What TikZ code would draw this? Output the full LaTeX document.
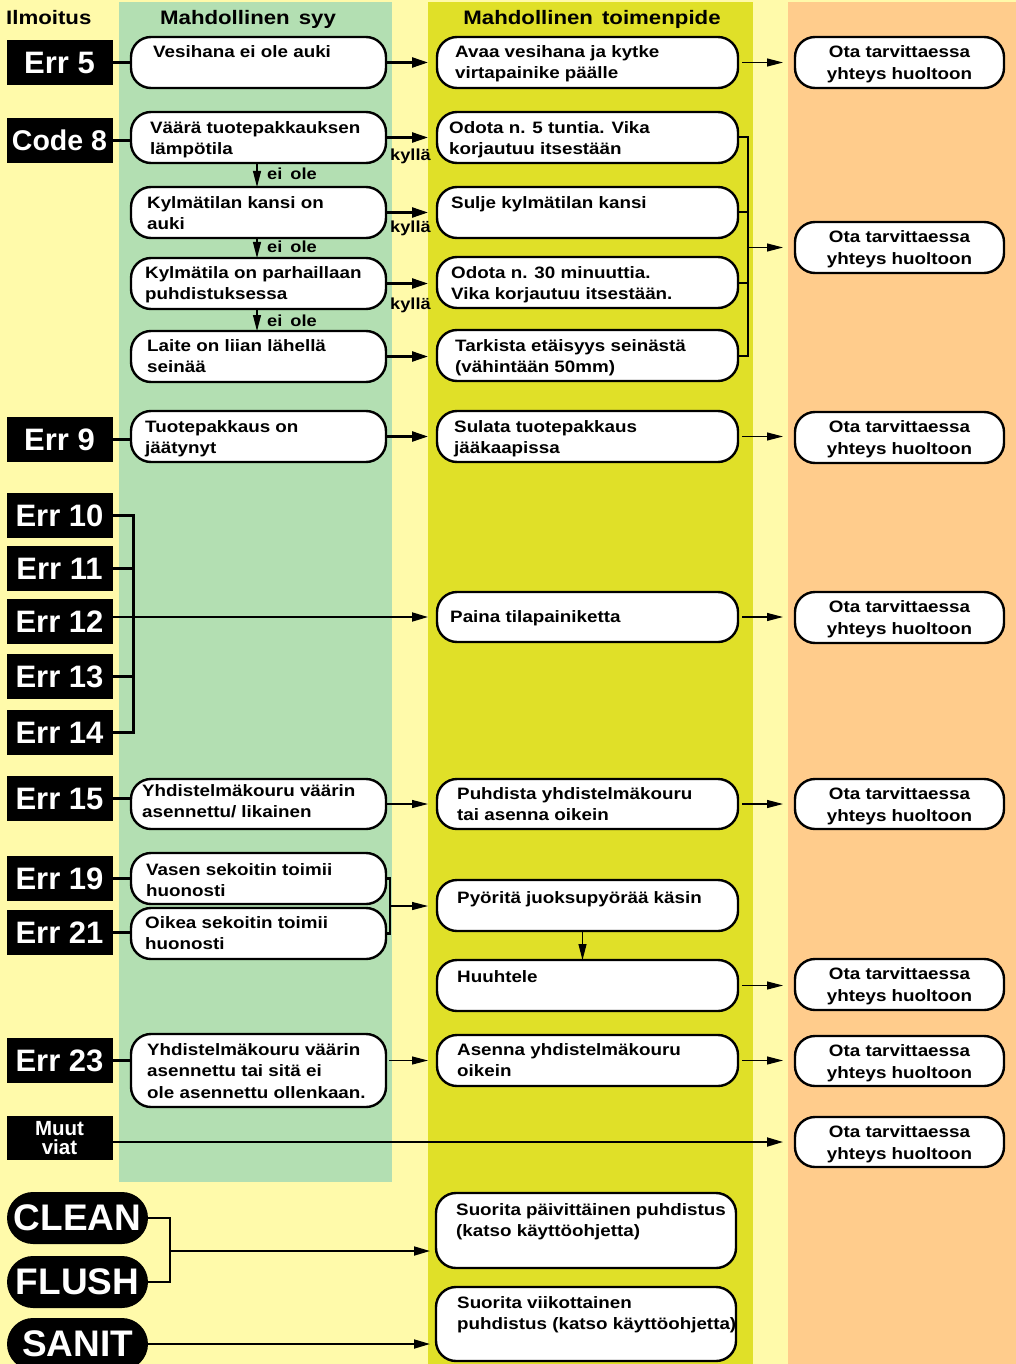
\documentclass[tikz,border=0pt]{standalone}
\usepackage{fontspec}
\setmainfont{Liberation Sans}
\newfontfamily\wide[FakeStretch=1.14]{Liberation Sans}
\usetikzlibrary{arrows.meta,calc}
\definecolor{bgy}{RGB}{255,250,170}
\definecolor{colg}{RGB}{179,223,178}
\definecolor{colyg}{RGB}{224,224,40}
\definecolor{colo}{RGB}{255,204,140}
\newcommand\svtxt{\rule{0pt}{16pt}Ota tarvittaessa\\yhteys huoltoon}
\begin{document}
\begin{tikzpicture}[x=1pt,y=-1pt,
  box/.style={draw, line width=2.4pt, fill=white, rounded corners=20pt, inner sep=0pt, outer sep=0pt},
  errbox/.style={fill=black, text=white, inner sep=0pt, outer sep=0pt, minimum width=106pt, minimum height=45pt, font=\bfseries\fontsize{31}{31}\selectfont},
  pill/.style={fill=black, text=white, rounded corners=26pt, minimum width=141pt, minimum height=52pt, inner sep=0pt, outer sep=0pt, font=\bfseries\fontsize{37}{37}\selectfont},
  txt/.style={anchor=north west, align=left, inner sep=0pt, font=\wide\bfseries\fontsize{16.5}{21.5}\selectfont},
  stxt/.style={align=center, font=\wide\bfseries\fontsize{16.5}{22}\selectfont},
  head/.style={anchor=base, inner sep=0pt, font=\wide\bfseries\fontsize{19.5}{20}\selectfont},
  lab/.style={anchor=base west, inner sep=0pt, font=\wide\bfseries\fontsize{16}{16}\selectfont},
  conn/.style={line width=2.2pt},
  thk/.style={line width=2.4pt, -{Triangle[length=16pt,width=10pt]}, shorten >=9pt},
  med/.style={line width=1.8pt, -{Triangle[length=16pt,width=9pt]}},
  thn/.style={line width=1.1pt, -{Triangle[length=16pt,width=8pt]}},
]
\clip (0,0) rectangle (1016,1364);
% backgrounds
\fill[bgy] (0,0) rectangle (1016,1364);
\fill[colg] (119,2) rectangle (392,1182);
\fill[colyg] (428,2) rectangle (753,1364);
\fill[colo] (788,2) rectangle (1016,1364);

% headers
\node[head, anchor=base west] (h1) at (6,25) {Ilmoitus};
\node[head] (h2) at (248,25) {Mahdollinen\hskip 9pt syy};
\node[head] (h3) at (592,25) {Mahdollinen\hskip 9pt toimenpide};

% error labels
\node[errbox] (e5) at (59.5,62.5) {Err 5};
\node[errbox, font=\bfseries\fontsize{28.5}{28.5}\selectfont] (code8) at (59.5,140.5) {Code 8};
\node[errbox] (e9) at (59.5,439.5) {Err 9};
\node[errbox] (e10) at (59.5,515.5) {Err 10};
\node[errbox] (e11) at (59.5,568.5) {Err 11};
\node[errbox] (e12) at (59.5,621.5) {Err 12};
\node[errbox] (e13) at (59.5,676.5) {Err 13};
\node[errbox] (e14) at (59.5,732.5) {Err 14};
\node[errbox] (e15) at (59.5,798.5) {Err 15};
\node[errbox] (e19) at (59.5,878.5) {Err 19};
\node[errbox] (e21) at (59.5,932.5) {Err 21};
\node[errbox] (e23) at (59.5,1060.5) {Err 23};
\node[errbox, minimum height=44pt, align=center, font=\bfseries\fontsize{20.5}{19}\selectfont] (muut) at (59.5,1138) {Muut\\viat};

% pills
\node[pill] (clean) at (77.5,1218) {CLEAN};
\node[pill] (flush) at (77.5,1282) {FLUSH};
\node[pill] (sanit) at (77.5,1344) {SANIT};

% cause boxes
\node[box, minimum width=255pt, minimum height=51pt] (c1) at (258.5,62.5) {};
\node[box, minimum width=255pt, minimum height=51pt] (c2) at (258.5,137.5) {};
\node[box, minimum width=255pt, minimum height=51pt] (c3) at (258.5,212.5) {};
\node[box, minimum width=255pt, minimum height=51pt] (c4) at (258.5,283.5) {};
\node[box, minimum width=255pt, minimum height=51pt] (c5) at (258.5,356.5) {};
\node[box, minimum width=255pt, minimum height=51pt] (c6) at (258.5,436.5) {};
\node[box, minimum width=255pt, minimum height=50pt] (c7) at (258.5,804) {};
\node[box, minimum width=255pt, minimum height=51pt] (c8) at (258.5,878.5) {};
\node[box, minimum width=255pt, minimum height=51pt] (c9) at (258.5,933.5) {};
\node[box, minimum width=255pt, minimum height=73pt] (c10) at (258.5,1070.5) {};

\node[txt] (tc1) at (153,42) {\strut Vesihana ei ole auki};
\node[txt] (tc2) at (150,118) {\strut Väärä tuotepakkauksen\\lämpötila};
\node[txt] (tc3) at (147,193) {\strut Kylmätilan kansi on\\auki};
\node[txt] (tc4) at (145,263) {\strut Kylmätila on parhaillaan\\puhdistuksessa};
\node[txt] (tc5) at (147,336) {\strut Laite on liian lähellä\\seinää};
\node[txt] (tc6) at (145,417) {\strut Tuotepakkaus on\\jäätynyt};
\node[txt] (tc7) at (142,781) {\strut Yhdistelmäkouru väärin\\asennettu/ likainen};
\node[txt] (tc8) at (146,860) {\strut Vasen sekoitin toimii\\huonosti};
\node[txt] (tc9) at (145,913) {\strut Oikea sekoitin toimii\\huonosti};
\node[txt] (tc10) at (147,1040) {\strut Yhdistelmäkouru väärin\\asennettu tai sitä ei\\ole asennettu ollenkaan.};

% action boxes
\node[box, minimum width=301pt, minimum height=51pt] (a1) at (587.5,62.5) {};
\node[box, minimum width=301pt, minimum height=51pt] (a2) at (587.5,137.5) {};
\node[box, minimum width=301pt, minimum height=51pt] (a3) at (587.5,212.5) {};
\node[box, minimum width=301pt, minimum height=51pt] (a4) at (587.5,282.5) {};
\node[box, minimum width=301pt, minimum height=51pt] (a5) at (587.5,355.5) {};
\node[box, minimum width=301pt, minimum height=51pt] (a6) at (587.5,436.5) {};
\node[box, minimum width=301pt, minimum height=50pt] (a7) at (587.5,617) {};
\node[box, minimum width=301pt, minimum height=50pt] (a8) at (587.5,804) {};
\node[box, minimum width=301pt, minimum height=51pt] (a9) at (587.5,905.5) {};
\node[box, minimum width=301pt, minimum height=51pt] (a10) at (587.5,985.5) {};
\node[box, minimum width=301pt, minimum height=51pt] (a11) at (587.5,1060.5) {};
\node[box, minimum width=300pt, minimum height=75pt] (a12) at (586,1230.5) {};
\node[box, minimum width=300pt, minimum height=74pt] (a13) at (586,1324) {};

\node[txt] (ta1) at (455,42) {\strut Avaa vesihana ja kytke\\virtapainike päälle};
\node[txt] (ta2) at (449,118) {\strut Odota n. 5 tuntia. Vika\\korjautuu itsestään};
\node[txt] (ta3) at (451,193) {\strut Sulje kylmätilan kansi};
\node[txt] (ta4) at (451,263) {\strut Odota n. 30 minuuttia.\\Vika korjautuu itsestään.};
\node[txt] (ta5) at (455,336) {\strut Tarkista etäisyys seinästä\\(vähintään 50mm)};
\node[txt] (ta6) at (454,417) {\strut Sulata tuotepakkaus\\jääkaapissa};
\node[txt] (ta7) at (450,607) {\strut Paina tilapainiketta};
\node[txt] (ta8) at (457,784) {\strut Puhdista yhdistelmäkouru\\tai asenna oikein};
\node[txt] (ta9) at (457,888) {\strut Pyöritä juoksupyörää käsin};
\node[txt] (ta10) at (457,967) {\strut Huuhtele};
\node[txt] (ta11) at (457,1040) {\strut Asenna yhdistelmäkouru\\oikein};
\node[txt] (ta12) at (456,1200) {\strut Suorita päivittäinen puhdistus\\(katso käyttöohjetta)};
\node[txt] (ta13) at (457,1293) {\strut Suorita viikottainen\\puhdistus (katso käyttöohjetta)};

% service boxes
\node[box, stxt, minimum width=209pt, minimum height=51pt] (s1) at (899.5,62.5) {\svtxt};
\node[box, stxt, minimum width=209pt, minimum height=51pt] (s2) at (899.5,247.5) {\svtxt};
\node[box, stxt, minimum width=209pt, minimum height=51pt] (s3) at (899.5,437.5) {\svtxt};
\node[box, stxt, minimum width=209pt, minimum height=51pt] (s4) at (899.5,617.5) {\svtxt};
\node[box, stxt, minimum width=209pt, minimum height=50pt] (s5) at (899.5,804) {\svtxt};
\node[box, stxt, minimum width=209pt, minimum height=51pt] (s6) at (899.5,984.5) {\svtxt};
\node[box, stxt, minimum width=209pt, minimum height=50pt] (s7) at (899.5,1061) {\svtxt};
\node[box, stxt, minimum width=209pt, minimum height=50pt] (s8) at (899.5,1142) {\svtxt};

% error -> cause lines
\draw[conn] (e5.east) -- (e5.east -| c1.west);
\draw[conn] (code8.east) -- (code8.east -| c2.west);
\draw[conn] (e9.east) -- (e9.east -| c6.west);
\draw[conn] (e15.east) -- (e15.east -| c7.west);
\draw[conn] (e19.east) -- (e19.east -| c8.west);
\draw[conn] (e21.east) -- (e21.east -| c9.west);
\draw[conn] (e23.east) -- (e23.east -| c10.west);

% cause -> action
\draw[thk] (c1.east) -- (a1.west);
\draw[thk] (c2.east) -- (a2.west);
\draw[thk] (c3.east) -- (a3.west);
\draw[thk] (c4.east) -- (c4.east -| a4.west);
\draw[thk] (c5.east) -- (c5.east -| a5.west);
\draw[thk] (c6.east) -- (a6.west);
\draw[thn, shorten >=9pt] (c7.east) -- (a8.west);
\draw[thn, shorten >=9pt, shorten <=3pt] (c10.east |- a11.west) -- (a11.west);

% yes/no labels
\node[lab] (k1) at (390,161) {kyllä};
\node[lab] (k2) at (390,233) {kyllä};
\node[lab] (k3) at (390,309) {kyllä};
\draw[thn] ($(c2.south)+(-1.5,0)$) -- ($(c3.north)+(-1.5,0)$);
\draw[thn] ($(c3.south)+(-1.5,0)$) -- ($(c4.north)+(-1.5,0)$);
\draw[thn] ($(c4.south)+(-1.5,0)$) -- ($(c5.north)+(-1.5,0)$);
\node[lab] (n1) at (267,180) {ei\hskip 8pt ole};
\node[lab] (n2) at (267,253) {ei\hskip 8pt ole};
\node[lab] (n3) at (267,326) {ei\hskip 8pt ole};

% action bracket
\draw[line width=2pt] (a2.east) -- ++(10,0) |- (a5.east);
\draw[line width=2pt] (a3.east) -- ++(10,0);
\draw[line width=2pt] (a4.east) -- ++(10,0);
\coordinate (ab) at (749,247.5);
\draw[thn, shorten >=12pt] (ab) -- (s2.west);

% action -> service
\draw[thn, shorten <=4pt, shorten >=12pt] (a1.east) -- (s1.west);
\draw[thn, shorten <=4pt, shorten >=12pt] (a6.east) -- (a6.east -| s3.west);
\draw[thn, shorten <=4pt, shorten >=12pt] (a7.east) -- (a7.east -| s4.west);
\draw[thn, shorten <=4pt, shorten >=12pt] (a8.east) -- (s5.west);
\draw[thn, shorten <=4pt, shorten >=12pt] (a10.east) -- (a10.east -| s6.west);
\draw[thn, shorten <=4pt, shorten >=12pt] (a11.east) -- (a11.east -| s7.west);

% Err 10-14 bracket
\draw[conn] (e10.east) -- ++(21,0) |- (e14.east);
\draw[conn] (e11.east) -- ++(21,0);
\draw[conn] (e13.east) -- ++(21,0);
\draw[med, shorten >=9pt] (e12.east |- a7.west) -- (a7.west);

% Err 19/21 bracket
\draw[conn] (c8.east) -- ++(4,0) |- (c9.east);
\coordinate (vb) at (390,906);
\draw[thn, shorten >=9pt] (vb) -- (vb -| a9.west);
\draw[thn] ($(a9.south)+(-5,0)$) -- ($(a10.north)+(-5,0)$);

% Muut viat
\draw[med, shorten >=12pt] (muut.east |- s8.west) -- (s8.west);

% CLEAN / FLUSH / SANIT
\draw[conn] (clean.east) -- ++(22,0) |- (flush.east);
\coordinate (cb) at (170,1251);
\draw[med, shorten >=6pt] (cb) -- (cb -| a12.west);
\draw[med, shorten >=6pt] (sanit.east) -- (sanit.east -| a13.west);
\end{tikzpicture}
\end{document}
